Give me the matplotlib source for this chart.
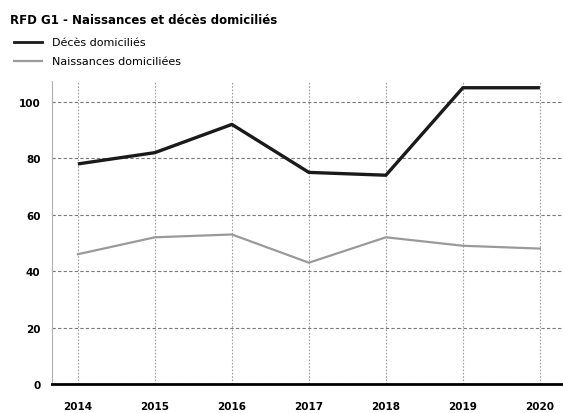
import matplotlib
matplotlib.use("Agg")
import matplotlib.pyplot as plt
from matplotlib.lines import Line2D

# données
annees = [2014, 2015, 2016, 2017, 2018, 2019, 2020]
deces = [78, 82, 92, 75, 74, 105, 105]
naissances = [46, 52, 53, 43, 52, 49, 48]
yticks = [0, 20, 40, 60, 80, 100]

titre = "RFD G1 - Naissances et décès domiciliés"
lab_deces = "Décès domiciliés"
lab_naiss = "Naissances domiciliées"

plt.rcParams["font.family"] = ["DejaVu Sans"]

fig = plt.figure(figsize=(5.63, 4.14), dpi=100)
ax = fig.add_axes([0.0918, 0.070, 1.0 - 0.0918, 0.732])

ax.plot(annees, deces, color="#1a1a1a", lw=2.4, solid_capstyle="butt", zorder=3)
ax.plot(annees, naissances, color="#9a9a9a", lw=1.6, zorder=3)

ax.set_xlim(2013.66, 2020.30)
ax.set_ylim(0, 107.4)
ax.set_xticks(annees)
ax.set_yticks(yticks)
ax.set_xticklabels([str(a) for a in annees], fontweight="bold", fontsize=7.5)
ax.set_yticklabels([str(v) for v in yticks], fontweight="bold", fontsize=7.5)
ax.tick_params(axis="y", length=0, pad=8)
ax.tick_params(axis="x", length=0, pad=12)

# grille : horizontales tiretées, verticales pointillées plus claires
ax.grid(True, axis="y", color="#7a7a7a", ls=(0, (3, 2)), lw=0.8, zorder=0)
ax.grid(True, axis="x", color="#a0a0a0", ls=(0, (1.5, 1.5)), lw=0.8, zorder=0)
for s in ["top", "right"]:
    ax.spines[s].set_visible(False)
ax.spines["left"].set_color("#b0b0b0")
ax.spines["left"].set_linewidth(0.8)
ax.spines["bottom"].set_color("black")
ax.spines["bottom"].set_linewidth(2.0)

# titre et légende en haut à gauche
fig.text(10 / 563, 1 - 21 / 414, titre, fontsize=8.5, fontweight="bold",
         va="center", ha="left")
for yy, lab, col, lw in [(43, lab_deces, "#1a1a1a", 2.0),
                          (62, lab_naiss, "#9a9a9a", 1.6)]:
    yf = 1 - yy / 414
    fig.add_artist(Line2D([14 / 563, 42 / 563], [yf, yf], color=col, lw=lw))
    fig.text(52 / 563, yf, lab, fontsize=8, va="center", ha="left")

fig.savefig("out.png", dpi=100)
